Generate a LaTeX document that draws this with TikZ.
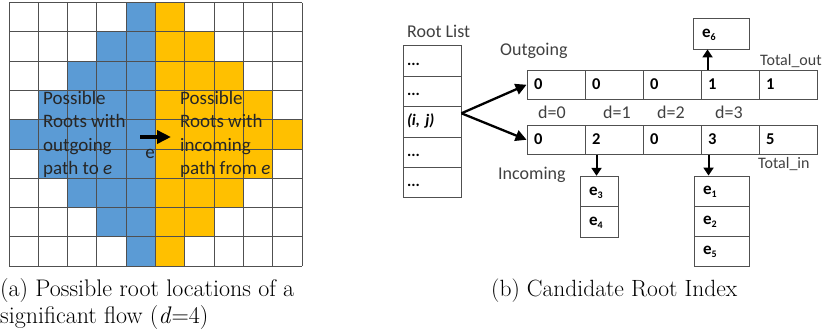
\documentclass[tikz,border=0pt]{standalone}
\usepackage{fontspec}
\newfontfamily\carl{Carlito}
\usetikzlibrary{arrows.meta,calc}
\definecolor{gblue}{HTML}{5B9BD5}
\definecolor{gyel}{HTML}{FFC000}
\definecolor{gline}{HTML}{505050}
\definecolor{txt}{HTML}{404040}
\begin{document}
\begin{tikzpicture}[x=1pt,y=-1pt,
  gridl/.style={gline,line width=1pt},
  gtext/.style={anchor=base west,inner sep=0pt,text=black!85,font=\carl\fontsize{19}{19}\selectfont},
  lbl/.style={anchor=base west,inner sep=0pt,text=txt,font=\carl\fontsize{18}{18}\selectfont},
  slbl/.style={anchor=base west,inner sep=0pt,text=txt,font=\carl\fontsize{16}{16}\selectfont},
  rl/.style={draw=gline,line width=0.9pt,inner xsep=4pt,inner ysep=0pt,text width=50pt,minimum height=30.4pt,align=left,text height=12pt,text depth=4pt,font=\carl\fontsize{16}{16}\selectfont\bfseries},
  arrcell/.style={draw=gline,line width=0.9pt,inner xsep=7pt,inner ysep=0pt,text width=44pt,minimum height=29.5pt,align=left,text height=10pt,text depth=0pt,font=\carl\fontsize{16.5}{16.5}\selectfont\bfseries},
  ebox/.style={draw=gline,line width=0.9pt,inner xsep=9pt,inner ysep=0pt,align=left,text height=10pt,text depth=3pt,font=\carl\fontsize{17}{17}\selectfont\bfseries},
  thickarr/.style={line width=2.3pt,-{Triangle[length=11pt,width=11pt]}},
  smallarr/.style={line width=2pt,-{Triangle[length=8pt,width=10pt]}},
  captext/.style={anchor=base west,inner sep=0pt,font=\fontsize{23.5}{23.5}\selectfont}
]
\useasboundingbox (0,0) rectangle (823,333);
\def\s{29.3}
% coloured cells
\foreach \r in {0,...,8}{
  \pgfmathtruncatemacro\k{abs(\r-4)}
  \pgfmathtruncatemacro\m{9-\k}
  \foreach \c in {\k,...,4}{\fill[gblue] (9+\c*\s,2.5+\r*\s) rectangle ++(\s,\s);}
  \foreach \c in {5,...,\m}{\fill[gyel] (9+\c*\s,2.5+\r*\s) rectangle ++(\s,\s);}
}
\foreach \i in {0,...,10}{\draw[gridl] (9+\i*\s,2.5) -- (9+\i*\s,266.2);}
\foreach \j in {0,...,9}{\draw[gridl] (9,2.5+\j*\s) -- (302,2.5+\j*\s);}
% grid texts
\node[gtext] (la) at (43,104) {Possible};
\node[gtext] (lb) at (43,127.5) {Roots with};
\node[gtext] (lc) at (43,151) {outgoing};
\node[gtext] (ld) at (43,174.5) {path to \textit{e}};
\node[gtext] (ra) at (180,104) {Possible};
\node[gtext] (rb) at (180,127.5) {Roots with};
\node[gtext] (rc) at (180,151) {incoming};
\node[gtext] (rd) at (180,174.5) {path from \textit{e}};
\coordinate (ea) at (140,137);
\coordinate (eb) at (171,137);
\draw[line width=3.5pt,-{Triangle[length=14pt,width=13pt]}] (ea) -- (eb);
\node[inner sep=0pt,text=black!85,font=\carl\fontsize{19}{19}\selectfont] (el) at (150,154) {e};
% root list
\node[lbl] (rlt) at (407,37.5) {Root List};
\node[rl] (r1) at (432,61) {...};
\node[rl] (r2) at (432,91.4) {...};
\node[rl] (r3) at (432,121.8) {\textit{(i, j)}};
\node[rl] (r4) at (432,152.2) {...};
\node[rl] (r5) at (432,182.6) {...};
% arrays
\node[lbl] (outl) at (500,55) {Outgoing};
\node[slbl] (tout) at (760,65) {Total\_out};
\foreach \v [count=\n] in {0,0,0,1,1}{\node[arrcell] (o\n) at (498+\n*58,84.75) {\v};}
\foreach \v [count=\n] in {0,2,0,3,5}{\node[arrcell] (i\n) at (498+\n*58,139.75) {\v};}
\node[lbl] (d0) at (538,118) {d=0};
\node[lbl] (d1) at (603,118) {d=1};
\node[lbl] (d2) at (657,118) {d=2};
\node[lbl] (d3) at (715,118) {d=3};
\node[lbl] (inl) at (498,179) {Incoming};
\node[slbl] (tin) at (758,168) {Total\_in};
% e boxes
\newcommand\esub[1]{\textbf{e}\raisebox{-3pt}{\fontsize{10}{10}\selectfont\bfseries #1}}
\node[ebox,text width=38pt,minimum height=31pt] (e6) at (721,33.5) {\esub{6}};
\node[ebox,text width=20pt,minimum height=30.5pt] (e3) at (599,191.5) {\esub{3}};
\node[ebox,text width=20pt,minimum height=30.5pt] (e4) at (599,222) {\esub{4}};
\node[ebox,text width=37pt,minimum height=30pt] (e1) at (721.5,191) {\esub{1}};
\node[ebox,text width=37pt,minimum height=30pt] (e2) at (721.5,221) {\esub{2}};
\node[ebox,text width=37pt,minimum height=30pt] (e5) at (721.5,251) {\esub{5}};
% connectors
\draw[thickarr] ([yshift=8.5pt]r3.east) -- (o1.west);
\draw[thickarr] ([yshift=8.5pt]r3.east) -- (i1.west);
\draw[smallarr] ([xshift=7pt]o4.north west) -- ([xshift=7pt]o4.north west |- e6.south);
\draw[smallarr] ([xshift=12pt]i2.south west) -- ([xshift=12pt]i2.south west |- e3.north);
\draw[smallarr] ([xshift=8pt]i4.south west) -- ([xshift=8pt]i4.south west |- e1.north);
% captions
\node[captext,font=\fontsize{24}{24}\selectfont] (capa1) at (0,296) {(a) Possible root locations of a};
\node[captext,font=\fontsize{24}{24}\selectfont] (capa2) at (0,323) {significant flow (\textit{d}=4)};
\node[captext] (capb) at (491,296) {(b) Candidate Root Index};
\end{tikzpicture}
\end{document}
